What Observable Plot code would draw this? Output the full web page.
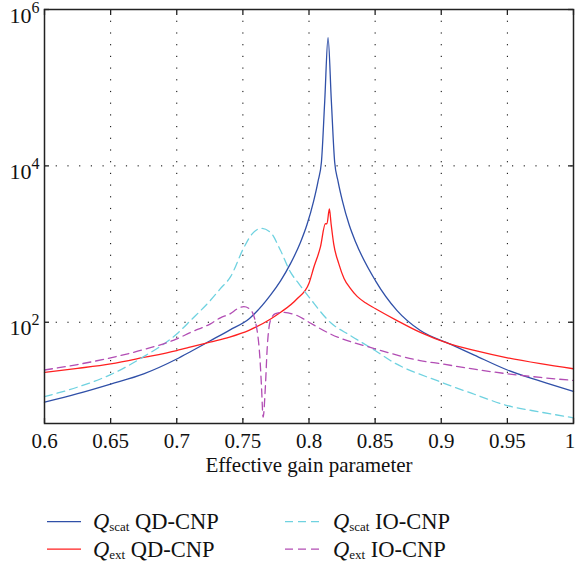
<!DOCTYPE html>
<html><head><meta charset="utf-8">
<script src="https://cdn.jsdelivr.net/npm/d3@7"></script>
<script src="https://cdn.jsdelivr.net/npm/@observablehq/plot@0.6"></script>
<style>
body{margin:0;background:#fff;}
#wrap{width:577px;height:562px;position:relative;font-family:"Liberation Serif",serif;background:#fff;}
#wrap svg, #wrap svg text, #wrap svg tspan{font-family:"Liberation Serif","Times New Roman",serif !important;}
</style></head><body><div id="wrap"></div>
<script>
// Tick values
const xTicks = [0.6, 0.65, 0.7, 0.75, 0.8, 0.85, 0.9, 0.95, 1];
const yTicks = [1e2, 1e4, 1e6];
const xLabel = "Effective gain parameter";

// Q_scat QD-CNP
const gainScatQD = [0.600,0.625,0.650,0.675,0.700,0.710,0.725,0.740,0.755,0.771,0.7785,0.786,0.7935,0.7985,0.8035,0.8068,0.8094,0.8119,0.8144,0.8169,0.8194,0.8220,0.8253,0.8303,0.8354,0.8503,0.8666,0.8842,0.9069,0.925,0.950,0.975,1.000];
const qScatQD    = [9.48,12.2,16.2,21.9,33.9,41.7,57.5,79.4,112,224,339,562,1047,1778,3548,6310,11220,67600,436500,67600,11220,6310,3548,1778,1047,339,141,78.3,52.5,38.0,24.5,17.6,13.0];

// Q_ext QD-CNP
const gainExtQD = [0.600,0.625,0.650,0.675,0.700,0.710,0.725,0.740,0.755,0.771,0.778,0.791,0.800,0.8036,0.8086,0.8124,0.8136,0.8154,0.8167,0.8187,0.8225,0.8265,0.831,0.8364,0.843,0.850,0.8666,0.8842,0.9069,0.925,0.950,0.975,1.000];
const qExtQD    = [22.8,25.7,29.4,35.5,43.5,47.9,55.6,64.6,79.4,110,132,200,316,501,912,1820,1820,2818,1820,1000,562,363,275,214,176,150,105,74.1,52.5,43.7,35.1,29.5,25.4];

// Q_scat IO-CNP
const gainScatIO = [0.600,0.625,0.650,0.675,0.700,0.7104,0.7255,0.733,0.7406,0.7506,0.757,0.7638,0.7708,0.7784,0.786,0.792,0.801,0.816,0.8313,0.850,0.8615,0.900,0.925,0.950,0.975,1.000];
const qScatIO    = [11.2,14.8,21.4,36.3,70.8,105,191,269,380,891,1349,1585,1413,832,437,316,200,100,67.6,43.5,32.4,17.1,12.0,8.6,7.1,6.0];

// Q_ext IO-CNP
const gainExtIO = [0.600,0.625,0.650,0.675,0.700,0.7104,0.7255,0.733,0.7406,0.7457,0.7507,0.7557,0.7608,0.7630,0.7641,0.7653,0.7670,0.7683,0.7708,0.7746,0.7797,0.791,0.801,0.8162,0.850,0.884,0.900,0.925,0.950,0.975,1.000];
const qExtIO    = [24.5,28.8,35.1,44.7,61.2,74.1,95.5,114,129,148,158,145,77.6,32.4,14.8,6.1,14.8,43.7,105,129,134,122,97.7,70.8,45.7,32.4,29.4,25.1,21.9,19.7,18.0];

const colors = ["#3050a8", "#ff2020", "#6fd2e0", "#b24db4"];

const rows = (xs, ys) => xs.map((x, i) => ({x, q: ys[i]}));
const dScatQD = rows(gainScatQD, qScatQD);
const dExtQD = rows(gainExtQD, qExtQD);
const dScatIO = rows(gainScatIO, qScatIO);
const dExtIO = rows(gainExtIO, qExtIO);

const W = 577, H = 490, mL = 44, mR = 4, mT = 9, mB = 67;
const fw = W - mL - mR, fh = H - mT - mB;
const gridStyle = {stroke: "#000", strokeOpacity: 1, strokeWidth: 1, strokeDasharray: "1.2,10.5"};
const tickStyle = {stroke: "#222", strokeWidth: 1.3};
const serif = "'Liberation Serif', 'Times New Roman', serif";

const chart = Plot.plot({
  width: W, height: H,
  marginLeft: mL, marginRight: mR, marginTop: mT, marginBottom: mB,
  x: {domain: [0.6, 1]},
  y: {type: "log", domain: [5.07, 1e6]},
  style: {fontFamily: serif, fontSize: "21px", background: "#fff", color: "#111"},
  marks: [
    Plot.gridX(xTicks, gridStyle),
    Plot.gridY(yTicks, gridStyle),
    Plot.line(dScatQD, {x: "x", y: "q", stroke: colors[0], strokeWidth: 1.3, curve: "monotone-x"}),
    Plot.line(dExtQD, {x: "x", y: "q", stroke: colors[1], strokeWidth: 1.3, curve: "monotone-x"}),
    Plot.line(dScatIO, {x: "x", y: "q", stroke: colors[2], strokeWidth: 1.3, strokeDasharray: "8,5", curve: "monotone-x"}),
    Plot.line(dExtIO, {x: "x", y: "q", stroke: colors[3], strokeWidth: 1.3, strokeDasharray: "8,5", curve: "monotone-x"}),
    Plot.tickX(xTicks, {x: d => d, insetTop: fh - 5, ...tickStyle}),
    Plot.tickX(xTicks, {x: d => d, insetBottom: fh - 6, ...tickStyle}),
    Plot.tickY(yTicks, {y: d => d, insetRight: fw - 5, ...tickStyle}),
    Plot.tickY(yTicks, {y: d => d, insetLeft: fw - 5, ...tickStyle}),
    Plot.frame({stroke: "#222", strokeWidth: 1.5}),
    Plot.axisX(xTicks, {tickSize: 0, tickPadding: 10, tickFormat: d => String(d), label: null, fontSize: 21}),
    Plot.axisY(yTicks, {tickSize: 0, tickPadding: 5, dy: 6, tickFormat: d => "10^" + Math.round(Math.log10(d)), label: null, fontSize: 22}),
    Plot.text([xLabel], {text: d => d, frameAnchor: "bottom", dy: 48, fontSize: 21})
  ]
});

const sel = d3.select(chart);
sel.attr("font-family", serif).style("font-family", serif);

// Keep the last x tick label inside the picture
sel.selectAll('g[aria-label="x-axis tick label"] text').each(function() {
  if (this.textContent === "1") d3.select(this).attr("dx", -3.5);
});

// Superscript exponents on the y tick labels
sel.selectAll('g[aria-label="y-axis tick label"] text').each(function() {
  const t = d3.select(this);
  const parts = t.text().split("^");
  if (parts.length !== 2) return;
  t.text(null);
  t.append("tspan").text(parts[0]);
  t.append("tspan").style("font-size", "16px").attr("dy", -10).text(parts[1]);
});

const wrap = document.getElementById("wrap");
wrap.appendChild(chart);

// Legend
const leg = d3.select(wrap).append("svg")
  .attr("width", W).attr("height", 72)
  .style("display", "block")
  .style("font-family", serif);
const items = [
  {sub: "scat", rest: " QD-CNP", col: 0, row: 0, dash: null},
  {sub: "ext", rest: " QD-CNP", col: 0, row: 1, dash: null},
  {sub: "scat", rest: " IO-CNP", col: 1, row: 0, dash: "8,5"},
  {sub: "ext", rest: " IO-CNP", col: 1, row: 1, dash: "8,5"}
];
const colX = [{s0: 47, s1: 81, tx: 93}, {s0: 285, s1: 320, tx: 333}];
const rowY = [{sy: 31.7, by: 38.5}, {sy: 59.2, by: 66.8}];
items.forEach((it, i) => {
  const c = colX[it.col], r = rowY[it.row];
  leg.append("line").attr("x1", c.s0).attr("x2", c.s1).attr("y1", r.sy).attr("y2", r.sy)
    .attr("stroke", colors[i]).attr("stroke-width", 1.3).attr("stroke-dasharray", it.dash);
  const t = leg.append("text").attr("x", c.tx).attr("y", r.by).style("font-size", "22.5px").attr("fill", "#111");
  t.append("tspan").attr("font-style", "italic").text("Q");
  t.append("tspan").style("font-size", "13px").attr("dy", 2).text(it.sub);
  t.append("tspan").attr("dy", -2).text(it.rest);
});
</script>
</body></html>
